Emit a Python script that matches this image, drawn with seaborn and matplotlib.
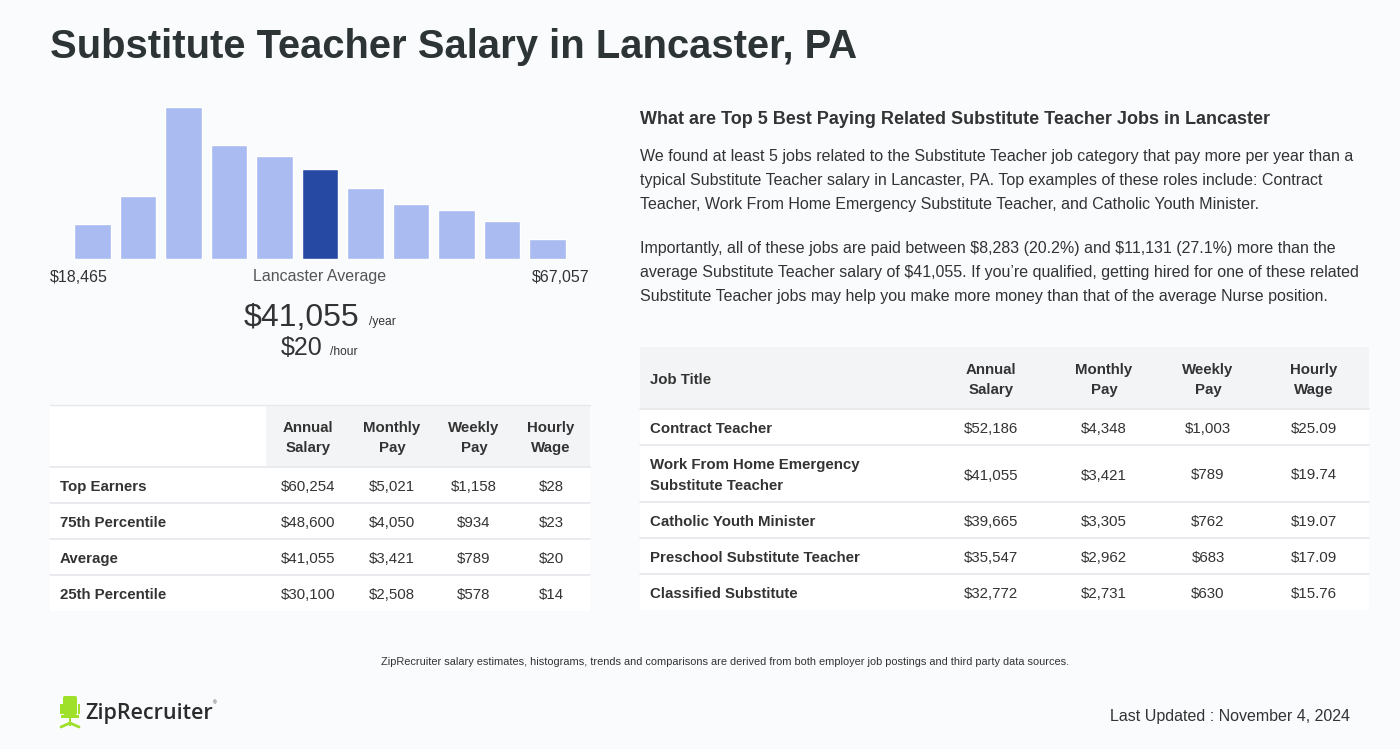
import matplotlib
matplotlib.use("Agg")
import matplotlib.pyplot as plt
import seaborn as sns
import pandas as pd
from matplotlib.patches import Rectangle, FancyBboxPatch

# ---------------- data ----------------
bins = [f"b{i}" for i in range(11)]
bin_heights = [35, 63, 152, 114, 103, 90, 71, 55, 49, 38, 20]
highlight_bin = 5
range_low = "$18,465"
range_high = "$67,057"
avg_year = "$41,055"
avg_hour = "$20"

left_cols = ["Annual\nSalary", "Monthly\nPay", "Weekly\nPay", "Hourly\nWage"]
left_rows = ["Top Earners", "75th Percentile", "Average", "25th Percentile"]
left_annual = ["$60,254", "$48,600", "$41,055", "$30,100"]
left_monthly = ["$5,021", "$4,050", "$3,421", "$2,508"]
left_weekly = ["$1,158", "$934", "$789", "$578"]
left_hourly = ["$28", "$23", "$20", "$14"]

jobs = ["Contract Teacher", "Work From Home Emergency\nSubstitute Teacher",
        "Catholic Youth Minister", "Preschool Substitute Teacher",
        "Classified Substitute"]
job_annual = ["$52,186", "$41,055", "$39,665", "$35,547", "$32,772"]
job_monthly = ["$4,348", "$3,421", "$3,305", "$2,962", "$2,731"]
job_weekly = ["$1,003", "$789", "$762", "$683", "$630"]
job_hourly = ["$25.09", "$19.74", "$19.07", "$17.09", "$15.76"]

title = "Substitute Teacher Salary in Lancaster, PA"
heading = "What are Top 5 Best Paying Related Substitute Teacher Jobs in Lancaster"
para1 = ["We found at least 5 jobs related to the Substitute Teacher job category that pay more per year than a",
         "typical Substitute Teacher salary in Lancaster, PA. Top examples of these roles include: Contract",
         "Teacher, Work From Home Emergency Substitute Teacher, and Catholic Youth Minister."]
para2 = ["Importantly, all of these jobs are paid between $8,283 (20.2%) and $11,131 (27.1%) more than the",
         "average Substitute Teacher salary of $41,055. If you\u2019re qualified, getting hired for one of these related",
         "Substitute Teacher jobs may help you make more money than that of the average Nurse position."]
footnote = "ZipRecruiter salary estimates, histograms, trends and comparisons are derived from both employer job postings and third party data sources."
updated = "Last Updated : November 4, 2024"

# ---------------- style ----------------
sns.set_theme(style="white")
plt.rcParams["font.family"] = ["Liberation Sans", "DejaVu Sans"]
plt.rcParams["text.parse_math"] = False

W, H = 1400, 749
BG = "#f9fbfd"
DARK = "#2d3436"
TXT = "#333333"
GRAY = "#555555"
LIGHT_BAR = "#a9bbf1"
DARK_BAR = "#264aa3"
HEAD_BG = "#f3f4f6"
LINE = "#e6e8eb"
TY = 2  # vertical text nudge

def pt(px):
    return px * 0.72

fig = plt.figure(figsize=(W / 100, H / 100), dpi=100, facecolor=BG)

# overlay axes in pixel coordinates
ov = fig.add_axes([0, 0, 1, 1], facecolor="none")
ov.set_xlim(0, W)
ov.set_ylim(H, 0)
ov.axis("off")

# ---------------- histogram ----------------
x0, x1 = 69.75, 570.25
ytop, ybase = 107, 259
hx = fig.add_axes([x0 / W, 1 - ybase / H, (x1 - x0) / W, (ybase - ytop) / H], facecolor="none")
df = pd.DataFrame({"bin": bins, "h": bin_heights})
colors = [DARK_BAR if i == highlight_bin else LIGHT_BAR for i in range(len(bins))]
sns.barplot(data=df, x="bin", y="h", hue="bin", palette=colors, legend=False,
            width=0.81, saturation=1, ax=hx)
hx.set_xlim(-0.5, len(bins) - 0.5)
hx.set_ylim(0, max(bin_heights))
hx.axis("off")

ov.text(50, 275 + TY, range_low, fontsize=pt(16), color=TXT, ha="left", va="center")
ov.text(320, 275 + TY, "Lancaster Average", fontsize=pt(16), color=GRAY, ha="center", va="center")
ov.text(590, 275 + TY, range_high, fontsize=pt(16), color=TXT, ha="right", va="center")
ov.text(359, 326, avg_year, fontsize=pt(32), color=TXT, ha="right", va="baseline")
ov.text(369, 325, "/year", fontsize=pt(12), color=TXT, ha="left", va="baseline")
ov.text(323, 355, avg_hour, fontsize=pt(25), color=TXT, ha="right", va="baseline")
ov.text(330, 355, "/hour", fontsize=pt(12), color=TXT, ha="left", va="baseline")

# ---------------- title ----------------
ov.text(50, 45 + TY, title, fontsize=pt(40), fontweight="bold", color=DARK, ha="left", va="center")

# ---------------- left table ----------------
lt_x0, lt_x1 = 50, 590
head_top, head_bot = 405, 467
row_h = 36
ov.add_patch(Rectangle((lt_x0, head_top), 266 - lt_x0, head_bot - head_top, facecolor="white", edgecolor="none"))
ov.add_patch(Rectangle((266, head_top), lt_x1 - 266, head_bot - head_top, facecolor=HEAD_BG, edgecolor="none"))
ov.plot([lt_x0, lt_x1], [head_top, head_top], color=LINE, lw=1)
lcol_x = [308, 392, 474, 551]
for cx, c in zip(lcol_x, left_cols):
    ov.text(cx, (head_top + head_bot) / 2 + TY, c, fontsize=pt(15), fontweight="bold", color=TXT,
            ha="center", va="center", linespacing=1.62)
for i, r in enumerate(left_rows):
    top = head_bot + i * row_h
    ov.add_patch(Rectangle((lt_x0, top), lt_x1 - lt_x0, row_h, facecolor="white", edgecolor="none"))
    ov.plot([lt_x0, lt_x1], [top, top], color=LINE, lw=1.2)
    cy = top + row_h / 2 + TY
    ov.text(60, cy, r, fontsize=pt(15), fontweight="bold", color=TXT, ha="left", va="center")
    vals = [left_annual[i], left_monthly[i], left_weekly[i], left_hourly[i]]
    for cx, v in zip(lcol_x, vals):
        ov.text(cx, cy, v, fontsize=pt(15), color=TXT, ha="center", va="center")

# ---------------- right text ----------------
ov.text(640, 117 + TY, heading, fontsize=pt(18), fontweight="bold", color=TXT, ha="left", va="center")
for k, line in enumerate(para1):
    ov.text(640, 155 + TY + 24 * k, line, fontsize=pt(16), color=TXT, ha="left", va="center")
for k, line in enumerate(para2):
    ov.text(640, 247 + TY + 24 * k, line, fontsize=pt(16), color=TXT, ha="left", va="center")

# ---------------- right table ----------------
rt_x0, rt_x1 = 640, 1369
rh_top, rh_bot = 347, 409
ov.add_patch(Rectangle((rt_x0, rh_top), rt_x1 - rt_x0, rh_bot - rh_top, facecolor=HEAD_BG, edgecolor="none"))
ov.text(650, (rh_top + rh_bot) / 2 + TY, "Job Title", fontsize=pt(15), fontweight="bold", color=TXT, ha="left", va="center")
rcol_x = [991, 1104, 1208, 1314]
for cx, c in zip(rcol_x, left_cols):
    ov.text(cx, (rh_top + rh_bot) / 2 + TY, c, fontsize=pt(15), fontweight="bold", color=TXT,
            ha="center", va="center", linespacing=1.62)
top = rh_bot
for i, j in enumerate(jobs):
    h = 57 if "\n" in j else 36
    ov.add_patch(Rectangle((rt_x0, top), rt_x1 - rt_x0, h, facecolor="white", edgecolor="none"))
    ov.plot([rt_x0, rt_x1], [top, top], color=LINE, lw=1.2)
    cy = top + h / 2 + TY
    ov.text(650, cy, j, fontsize=pt(15), fontweight="bold", color=TXT, ha="left", va="center", linespacing=1.55)
    vals = [job_annual[i], job_monthly[i], job_weekly[i], job_hourly[i]]
    for cx, v in zip(rcol_x, vals):
        ov.text(cx, cy, v, fontsize=pt(15), color=TXT, ha="center", va="center")
    top += h

# ---------------- footer ----------------
ov.text(725, 660 + TY, footnote, fontsize=pt(11), color=TXT, ha="center", va="center")
ov.text(1350, 715 + TY, updated, fontsize=pt(16), color=TXT, ha="right", va="center")

# logo
GREEN = "#9fe02a"
ov.add_patch(FancyBboxPatch((63, 696), 14, 19, boxstyle="round,pad=0,rounding_size=2",
                            facecolor=GREEN, edgecolor="none"))
ov.add_patch(Rectangle((60, 704), 2.5, 10, facecolor=GREEN, edgecolor="none"))
ov.add_patch(Rectangle((77.5, 704), 2.5, 10, facecolor=GREEN, edgecolor="none"))
ov.add_patch(Rectangle((61, 715), 18, 3, facecolor=GREEN, edgecolor="none"))
ov.add_patch(Rectangle((68.8, 718), 2.5, 8, facecolor=GREEN, edgecolor="none"))
ov.plot([61, 70, 79], [727, 723, 727], color=GREEN, lw=2, solid_capstyle="round")
ov.text(85, 714, "ZipRecruiter", fontsize=pt(21.5), fontweight="semibold", color="#2b2b2b",
        family=["Open Sans", "DejaVu Sans"], ha="left", va="center")
ov.text(213, 703, "\u00ae", fontsize=pt(5), color="#2b2b2b", ha="left", va="center")

fig.savefig("out.png", dpi=100, facecolor=BG)
